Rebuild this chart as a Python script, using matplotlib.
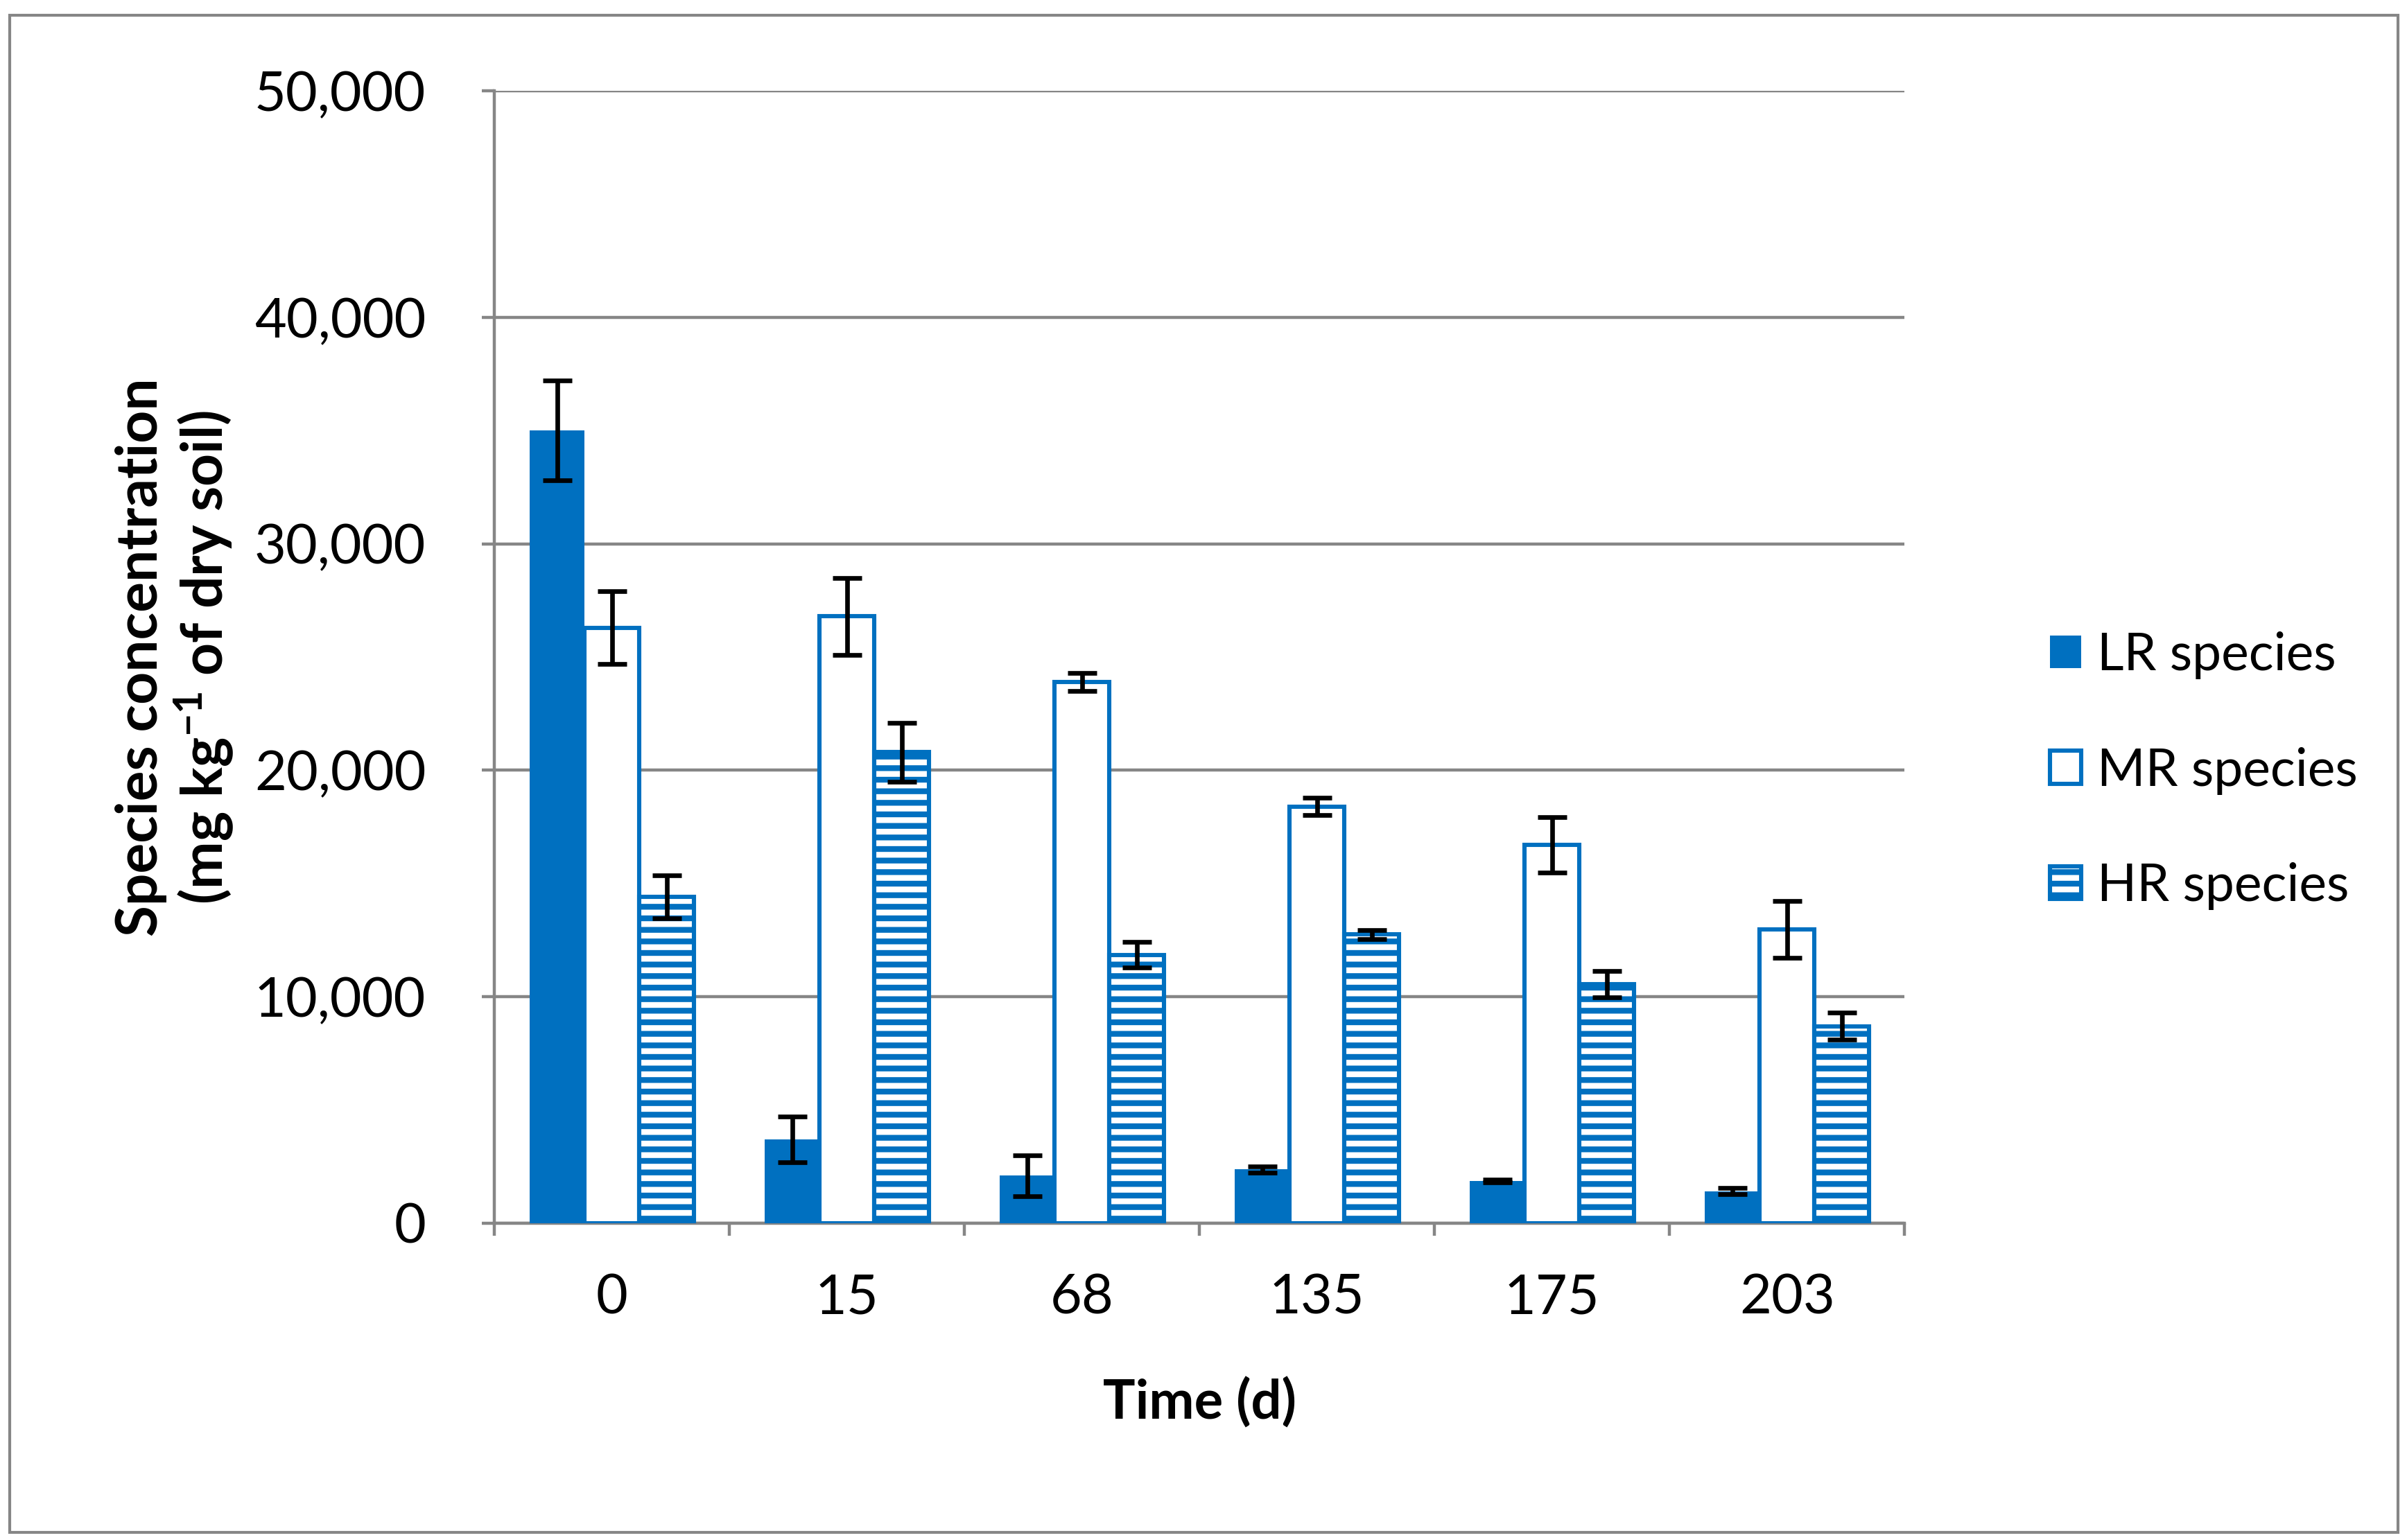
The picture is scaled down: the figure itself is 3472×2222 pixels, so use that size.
import matplotlib.pyplot as plt
import numpy as np
from matplotlib.patches import Rectangle
from matplotlib.ticker import FuncFormatter, FixedLocator

plt.rcParams['font.family'] = ['Lato', 'DejaVu Sans']
plt.rcParams['mathtext.fontset'] = 'custom'
plt.rcParams['mathtext.rm'] = 'Lato'
plt.rcParams['mathtext.bf'] = 'Lato:bold'
plt.rcParams['mathtext.default'] = 'bf'
plt.rcParams['hatch.linewidth'] = 3.0

days = ['0', '15', '68', '135', '175', '203']
lr = [35000, 3700, 2100, 2370, 1870, 1420]
lr_err = [2200, 1000, 900, 150, 60, 130]
mr = [26300, 26800, 23900, 18400, 16700, 12970]
mr_err = [1600, 1700, 400, 380, 1230, 1250]
hr = [14400, 20800, 11850, 12750, 10550, 8700]
hr_err = [950, 1300, 570, 200, 580, 600]

blue = '#0070C0'
grey = '#868686'

fig = plt.figure(figsize=(17.365, 11.11), dpi=200)
ax = fig.add_axes([0.2053, 0.2057, 0.791 - 0.2053, 0.941 - 0.2057])

x = np.arange(len(days))
w = 0.233
err_kw = dict(ecolor='black', elinewidth=2.4, capsize=7.5, capthick=2.4)

ax.bar(x - w, lr, w, yerr=lr_err, color=blue, edgecolor=blue, linewidth=0,
       label='LR species', error_kw=err_kw, zorder=3)
ax.bar(x, mr, w, yerr=mr_err, color='white', edgecolor=blue, linewidth=2.2,
       label='MR species', error_kw=err_kw, zorder=3)
ax.bar(x + w, hr, w, yerr=hr_err, color='white', edgecolor=blue, linewidth=2.2,
       hatch='--', label='HR species', error_kw=err_kw, zorder=3)

ax.set_xlim(-0.5, len(days) - 0.5)
ax.set_ylim(0, 50000)
ax.set_yticks(np.arange(0, 50001, 10000))
ax.yaxis.set_major_formatter(FuncFormatter(lambda v, p: f'{int(v):,}'))
ax.yaxis.grid(True, color=grey, linewidth=1.6, zorder=0)

# ticks at the category boundaries, labels at centres
ax.xaxis.set_major_locator(FixedLocator(np.arange(-0.5, len(days))))
ax.xaxis.set_major_formatter(FuncFormatter(lambda v, p: ''))
ax.xaxis.set_minor_locator(FixedLocator(x))
ax.set_xticklabels(days, minor=True)
ax.tick_params(axis='x', which='major', length=6.5, width=1.6, color=grey)
ax.tick_params(axis='x', which='minor', length=0, pad=26, labelsize=28.5)
ax.tick_params(axis='y', length=6.5, width=1.6, color=grey, pad=29, labelsize=28.5)

for s in ['top', 'right']:
    ax.spines[s].set_visible(False)
for s in ['left', 'bottom']:
    ax.spines[s].set_color(grey)
    ax.spines[s].set_linewidth(1.6)

ax.set_xlabel('Time (d)', fontsize=28, fontweight='bold', labelpad=28)
ax.set_ylabel('Species concentration\n(mg kg$^{-1}$ of dry soil)', fontsize=29.5,
              fontweight='bold', labelpad=10, linespacing=1.1)

fig.legend(loc='center left', bbox_to_anchor=(0.832, 0.4995), frameon=False,
           fontsize=27, handlelength=0.6, handleheight=0.6, handletextpad=0.3,
           labelspacing=1.3)

fig.patches.append(Rectangle((0.004, 0.005), 0.992, 0.985, transform=fig.transFigure,
                             fill=False, edgecolor=grey, linewidth=1.5))

plt.savefig('out.png', dpi=200)
plt.close()
